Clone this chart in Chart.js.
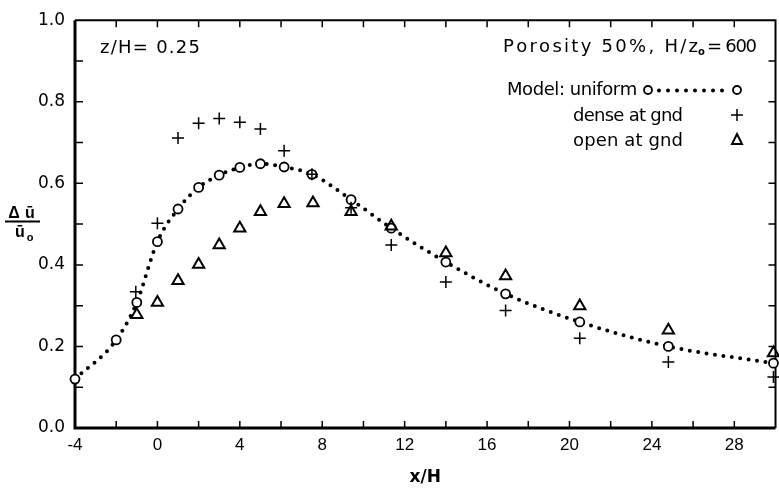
<!DOCTYPE html>
<html>
<head>
<meta charset="utf-8">
<title>Velocity deficit behind porous fence</title>
<script src="https://cdn.jsdelivr.net/npm/chart.js@4.4.0/dist/chart.umd.min.js"></script>
<style>
  html, body { margin: 0; padding: 0; background: #fff; overflow: hidden; }
  #wrap { width: 779px; height: 490px; overflow: hidden; }
</style>
</head>
<body>
<div id="wrap"><canvas id="chart" width="784" height="490"></canvas></div>
<script>
// Model: uniform porosity (circles joined by dotted curve)
const uniformX = [-4, -2, -1, 0, 1, 2, 3, 4, 5, 6.15, 7.5, 9.4, 11.35, 14, 16.9, 20.5, 24.8, 29.9];
const uniformY = [0.12, 0.216, 0.308, 0.457, 0.537, 0.59, 0.62, 0.639, 0.648, 0.64, 0.622, 0.56, 0.49, 0.407, 0.329, 0.26, 0.2, 0.159];

// Model: dense at ground (crosses)
const denseX = [-1.05, 0, 1, 2, 3, 4, 5, 6.15, 7.5, 9.4, 11.35, 14, 16.9, 20.5, 24.8, 29.9];
const denseY = [0.334, 0.502, 0.711, 0.747, 0.759, 0.75, 0.733, 0.68, 0.622, 0.54, 0.449, 0.358, 0.288, 0.22, 0.162, 0.125];

// Model: open at ground (triangles)
const openX = [-1, 0, 1, 2, 3, 4, 5, 6.15, 7.55, 9.4, 11.35, 14, 16.9, 20.5, 24.8, 29.9];
const openY = [0.278, 0.308, 0.361, 0.401, 0.449, 0.49, 0.53, 0.55, 0.552, 0.53, 0.495, 0.429, 0.373, 0.299, 0.24, 0.184];

// Axis labels
const xTickValues = [-4, 0, 4, 8, 12, 16, 20, 24, 28];
const yTickValues = [0, 0.2, 0.4, 0.6, 0.8, 1.0];

const FONT = '"Liberation Sans", Arial, sans-serif';
const WIDE_FONT = '"DejaVu Sans", sans-serif';

const toPoints = (xs, ys) => xs.map((x, i) => ({ x: x, y: ys[i] }));

// Draw text letter by letter, spread so it spans [x0, x1]
function spreadText(ctx, text, x0, x1, y) {
    const natural = ctx.measureText(text).width;
    const gap = text.length > 1 ? (x1 - x0 - natural) / (text.length - 1) : 0;
    let cx = x0;
    ctx.textAlign = 'left';
    for (const ch of text) {
        ctx.fillText(ch, cx, y);
        cx += ctx.measureText(ch).width + gap;
    }
}

// Boxed frame with inward tick marks (every 2 in x, every 0.1 in y)
const framePlugin = {
    id: 'frame',
    beforeDatasetsDraw(chart) {
        const { ctx, chartArea: a, scales: { x, y } } = chart;
        ctx.save();
        ctx.strokeStyle = '#000';
        ctx.lineCap = 'butt';

        ctx.lineWidth = 3;
        ctx.beginPath();
        ctx.moveTo(a.left, a.top);
        ctx.lineTo(a.left, a.bottom + 1.5);
        ctx.moveTo(a.left - 1.5, a.bottom);
        ctx.lineTo(a.right, a.bottom);
        ctx.stroke();

        ctx.lineWidth = 2;
        ctx.beginPath();
        ctx.moveTo(a.left, a.top);
        ctx.lineTo(a.right, a.top);
        ctx.lineTo(a.right, a.bottom);
        ctx.stroke();

        ctx.lineWidth = 1.5;
        ctx.beginPath();
        for (let v = -2; v < 30; v += 2) {
            const px = x.getPixelForValue(v);
            ctx.moveTo(px, a.bottom);
            ctx.lineTo(px, a.bottom - 7);
            ctx.moveTo(px, a.top);
            ctx.lineTo(px, a.top + 7);
        }
        for (let i = 1; i < 10; i++) {
            const py = y.getPixelForValue(i / 10);
            ctx.moveTo(a.left, py);
            ctx.lineTo(a.left + 8, py);
            ctx.moveTo(a.right, py);
            ctx.lineTo(a.right - 7, py);
        }
        ctx.stroke();
        ctx.restore();
    }
};

// Text annotations, key and the fractional y-axis title
const annotationPlugin = {
    id: 'annotations',
    afterDatasetsDraw(chart) {
        const { ctx } = chart;
        ctx.save();
        ctx.fillStyle = '#000';
        ctx.strokeStyle = '#000';
        ctx.textBaseline = 'alphabetic';

        ctx.font = '18px ' + WIDE_FONT;
        spreadText(ctx, 'z/H= 0.25', 100, 200, 53);

        // Porosity 50%, H/z_o = 600
        spreadText(ctx, 'Porosity 50%, H/z', 503, 697, 52);
        ctx.font = 'bold 10px ' + WIDE_FONT;
        ctx.fillText('o', 698, 55);
        ctx.font = '18px ' + WIDE_FONT;
        spreadText(ctx, '= 600', 707, 757, 52);

        // Key
        spreadText(ctx, 'Model: uniform', 507, 637, 95);
        spreadText(ctx, 'dense at gnd', 573, 683, 121);
        spreadText(ctx, 'open at gnd', 573, 683, 146);

        ctx.lineWidth = 1.8;
        ctx.beginPath();
        ctx.arc(648, 90, 4, 0, Math.PI * 2);
        ctx.stroke();
        ctx.beginPath();
        ctx.arc(737, 90, 4, 0, Math.PI * 2);
        ctx.stroke();
        for (let i = 0; i < 8; i++) {
            ctx.beginPath();
            ctx.arc(659 + i * 9, 90.5, 2, 0, Math.PI * 2);
            ctx.fill();
        }

        ctx.lineWidth = 1.5;
        ctx.beginPath();
        ctx.moveTo(731, 115);
        ctx.lineTo(743, 115);
        ctx.moveTo(737, 109);
        ctx.lineTo(737, 121);
        ctx.stroke();

        ctx.lineWidth = 2;
        ctx.beginPath();
        ctx.moveTo(737, 134);
        ctx.lineTo(742, 144);
        ctx.lineTo(732, 144);
        ctx.closePath();
        ctx.stroke();

        // y-axis title: delta u-bar over u-bar sub o
        ctx.textAlign = 'center';
        ctx.font = 'bold 16px ' + FONT;
        ctx.fillText('\u0394', 14, 218);
        ctx.fillText('\u016B', 30, 218);
        ctx.lineWidth = 2;
        ctx.beginPath();
        ctx.moveTo(5, 221.5);
        ctx.lineTo(40, 221.5);
        ctx.stroke();
        ctx.fillText('\u016B', 20, 237);
        ctx.font = 'bold 11px ' + FONT;
        ctx.fillText('o', 30, 241);

        ctx.restore();
    }
};

new Chart(document.getElementById('chart'), {
    type: 'scatter',
    data: {
        datasets: [
            {
                label: 'dense at gnd',
                data: toPoints(denseX, denseY),
                pointStyle: 'cross',
                pointRadius: 6,
                pointBorderWidth: 1.5,
                borderColor: '#000',
                clip: false
            },
            {
                label: 'open at gnd',
                data: toPoints(openX, openY),
                pointStyle: 'triangle',
                pointRadius: 6.5,
                pointBorderWidth: 2,
                borderColor: '#000',
                pointBackgroundColor: 'rgba(0,0,0,0)',
                clip: false
            },
            {
                label: 'uniform',
                data: toPoints(uniformX, uniformY),
                showLine: true,
                cubicInterpolationMode: 'monotone',
                borderColor: '#000',
                borderWidth: 4,
                borderDash: [0, 8.5],
                borderCapStyle: 'round',
                pointStyle: 'circle',
                pointRadius: 4.5,
                pointBorderWidth: 1.8,
                pointBorderColor: '#000',
                pointBackgroundColor: '#fff',
                clip: false
            }
        ]
    },
    options: {
        responsive: false,
        animation: false,
        devicePixelRatio: 1,
        layout: { padding: { top: 14, right: 3, left: 0, bottom: 0 } },
        plugins: {
            legend: { display: false },
            tooltip: { enabled: false }
        },
        scales: {
            x: {
                type: 'linear',
                min: -4,
                max: 30,
                afterBuildTicks: s => { s.ticks = xTickValues.map(v => ({ value: v })); },
                afterFit: s => { s.height = 62; },
                grid: { display: false, drawTicks: false },
                border: { display: false },
                ticks: {
                    color: '#000',
                    padding: 7,
                    maxRotation: 0,
                    autoSkip: false,
                    font: { family: FONT, size: 17 },
                    callback: v => String(v)
                },
                title: {
                    display: true,
                    text: 'x/H',
                    color: '#000',
                    font: { family: WIDE_FONT, size: 17, weight: 'bold' },
                    padding: { top: 0, bottom: 2 }
                }
            },
            y: {
                type: 'linear',
                min: 0,
                max: 1,
                afterBuildTicks: s => { s.ticks = yTickValues.map(v => ({ value: v })); },
                afterFit: s => { s.width = 75; },
                grid: { display: false, drawTicks: false },
                border: { display: false },
                ticks: {
                    color: '#000',
                    padding: 10,
                    font: { family: WIDE_FONT, size: 17 },
                    callback: v => v.toFixed(1)
                }
            }
        }
    },
    plugins: [framePlugin, annotationPlugin]
});
</script>
</body>
</html>
